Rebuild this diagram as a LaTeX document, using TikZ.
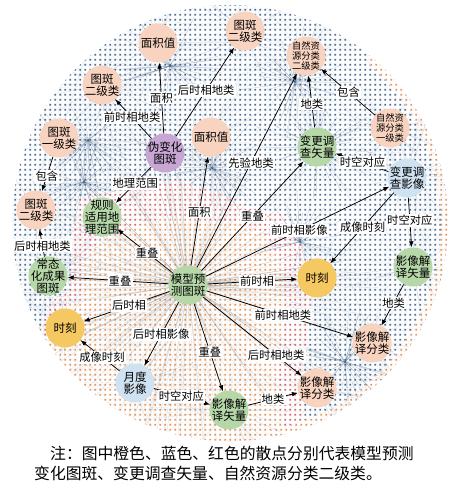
\documentclass[tikz,border=0pt]{standalone}
\usepackage{fontspec}
\setmainfont{Noto Sans CJK SC}
\usetikzlibrary{arrows.meta,patterns.meta}
\definecolor{peach}{HTML}{F8D4C0}
\definecolor{leaf}{HTML}{B6D7A8}
\definecolor{lilac}{HTML}{C7A6D3}
\definecolor{sky}{HTML}{CFE2F1}
\definecolor{amber}{HTML}{F5C862}
\definecolor{dotblue}{HTML}{4D6F96}
\definecolor{dotorange}{HTML}{E8975C}
\definecolor{dotred}{HTML}{D8646C}
\definecolor{fanblue}{HTML}{3F5F86}
\definecolor{fangray}{HTML}{7F7A76}
\pgfdeclarelayer{bg}
\pgfsetlayers{bg,main}
\tikzdeclarepattern{name=scatter, type=uncolored,
  bounding box={(0pt,0pt) and (4.8pt,4.8pt)}, tile size={(4.8pt,4.8pt)},
  code={\fill (0.3pt,0.3pt) rectangle (2.1pt,2.1pt);}}
\tikzset{
  ent/.style={circle, minimum size=39pt, inner sep=-6pt, align=center,
    font=\fontsize{11.5}{12}\selectfont},
  entsmall/.style={ent, font=\fontsize{9.3}{10.2}\selectfont},
  rel/.style={line width=0.75pt, -{Latex[length=6pt,width=4.6pt]}},
  lbl/.style={fill=white, inner sep=1.2pt, font=\fontsize{11.3}{12}\selectfont},
  fanlight/.style={draw=fanblue, opacity=0.13, line width=0.3pt},
  fandark/.style={draw=fanblue, opacity=0.35, line width=0.3pt},
  fanmodel/.style={draw=fangray, opacity=0.25, line width=0.3pt}
}
% lines from one point to its scattered points
\newcommand{\spray}[4]{\foreach \k in {1,...,#2}{\draw[#4] (#1) -- ++({360*rnd}:{#3*(0.25+0.75*rnd)});}}
\begin{document}
\begin{tikzpicture}[x=1pt,y=-1pt]
\useasboundingbox (0,0) rectangle (452,503);
\pgfmathsetseed{42}
% entities
\node[ent,fill=peach] (mjz1) at (158,43) {面积值};
\node[ent,fill=peach] (tbe1) at (245,31) {图斑\\二级类};
\node[entsmall,fill=peach] (zre) at (306,56) {自然资\\源分类\\二级类};
\node[entsmall,fill=peach] (zry) at (390,128) {自然资\\源分类\\一级类};
\node[ent,fill=peach] (tbe2) at (102,85) {图斑\\二级类};
\node[ent,fill=lilac] (wbh) at (165,153) {伪变化\\图斑};
\node[ent,fill=peach] (mjz2) at (211,137) {面积值};
\node[ent,fill=peach] (tby) at (59,138) {图斑\\一级类};
\node[ent,fill=peach] (tbe3) at (36,210) {图斑\\二级类};
\node[ent,fill=leaf] (gzfw) at (102,217) {规则\\适用地\\理范围};
\node[ent,fill=leaf] (bgsl) at (317,147) {变更调\\查矢量};
\node[ent,fill=sky] (bgyx) at (407,178) {变更调\\查影像};
\node[ent,fill=leaf] (mxyc) at (188,285) {模型预\\测图斑};
\node[ent,fill=leaf] (ctch) at (48,276) {常态\\化成果\\图斑};
\node[ent,fill=amber] (sk1) at (65,328) {时刻};
\node[ent,fill=sky] (ydyx) at (135,383) {月度\\影像};
\node[ent,fill=leaf] (yjsl1) at (229,410) {影像解\\译矢量};
\node[ent,fill=peach] (yjfl1) at (317,388) {影像解\\译分类};
\node[ent,fill=peach] (yjfl2) at (372,343) {影像解\\译分类};
\node[ent,fill=leaf] (yjsl2) at (413,267) {影像解\\译矢量};
\node[ent,fill=amber] (sk2) at (317,278) {时刻};
% hubs of the scattered points
\coordinate (hub1) at (170,66);
\coordinate (hub2) at (212,168);
\coordinate (hub3) at (88,140);
\coordinate (hub4) at (84,182);
\coordinate (hub5) at (300,242);
\coordinate (hub6) at (345,362);
\coordinate (hub7) at (295,82);
% scatter background
\begin{pgfonlayer}{bg}
\fill[white] (0,0) rectangle (452,503);
\begin{scope}
\clip (230,223) circle[radius=218];
\fill[pattern=scatter, pattern color=dotblue] (230,223) circle[radius=218];
\fill[white] (38,335) -- (52,300) -- (70,290) -- (72,245) -- (78,198) -- (130,188) -- (175,180) -- (220,193) -- (250,208) -- (282,213) -- (302,245) -- (312,290) -- (307,335) -- (302,380) -- (307,445) -- (0,470) -- (0,335) -- cycle;
\fill[pattern=scatter, pattern color=dotred] (38,335) -- (52,300) -- (70,290) -- (72,245) -- (78,198) -- (130,188) -- (175,180) -- (220,193) -- (250,208) -- (282,213) -- (302,245) -- (312,290) -- (307,335) -- (302,380) -- (307,445) -- (0,470) -- (0,335) -- cycle;
\fill[white] (42,345) -- (58,310) -- (80,300) -- (85,260) -- (100,240) -- (130,228) -- (175,215) -- (215,222) -- (245,225) -- (265,235) -- (280,260) -- (285,300) -- (280,340) -- (275,380) -- (285,445) -- (0,470) -- (0,350) -- cycle;
\fill[pattern=scatter, pattern color=dotorange] (42,345) -- (58,310) -- (80,300) -- (85,260) -- (100,240) -- (130,228) -- (175,215) -- (215,222) -- (245,225) -- (265,235) -- (280,260) -- (285,300) -- (280,340) -- (275,380) -- (285,445) -- (0,470) -- (0,350) -- cycle;
\begin{scope}
\clip (230,223) -- ++(-50:320) arc[start angle=-50, end angle=80, radius=320] -- cycle;
\fill[white, even odd rule] (230,223) circle[radius=218] (230,223) circle[radius=211];
\fill[pattern=scatter, pattern color=dotorange, even odd rule] (230,223) circle[radius=218] (230,223) circle[radius=211];
\end{scope}
\spray{mxyc.center}{260}{200}{fanmodel}
\foreach \n in {mjz1,tbe1,zre,zry,tbe2,wbh,mjz2,tby,tbe3,gzfw,bgsl,bgyx,ctch,sk1,ydyx,yjsl1,yjfl1,yjfl2,yjsl2,sk2}{
  \spray{\n.center}{60}{100}{fanlight}
}
\foreach \h in {hub1,hub2,hub3,hub4,hub5,hub6,hub7,bgsl.center}{
  \spray{\h}{40}{60}{fandark}
}
\end{scope}
\end{pgfonlayer}
% relations
\draw[rel] (wbh) -- node[lbl,pos=0.5]{面积} (mjz1);
\draw[rel] (wbh) -- node[lbl,pos=0.52]{后时相地类} (tbe1);
\draw[rel] (wbh) -- node[lbl,pos=0.54]{前时相地类} (tbe2);
\draw[rel] (tby) -- node[lbl,pos=0.56]{包含} (tbe3);
\draw[rel] (wbh) -- node[lbl,pos=0.45]{地理范围} (gzfw);
\draw[rel] (ctch) -- node[lbl,pos=0.4]{后时相地类} (tbe3);
\draw[rel] (mxyc) -- node[lbl,pos=0.46]{重叠} (gzfw);
\draw[rel] (mxyc) -- node[lbl,pos=0.48]{重叠} (ctch);
\draw[rel] (mxyc) -- node[lbl,pos=0.47]{后时相} (sk1);
\draw[rel] (mxyc) -- node[lbl,pos=0.51]{后时相影像} (ydyx);
\draw[rel] (ydyx) -- node[lbl,pos=0.45]{成像时刻} (sk1);
\draw[rel] (ydyx) -- node[lbl,pos=0.49]{时空对应} (yjsl1);
\draw[rel] (mxyc) -- node[lbl,pos=0.55]{重叠} (yjsl1);
\draw[rel] (yjsl1) -- node[lbl,pos=0.5]{地类} (yjfl1);
\draw[rel] (mxyc) -- node[lbl,pos=0.74]{后时相地类} (yjfl1);
\draw[rel] (mxyc) -- node[lbl,pos=0.52]{前时相地类} (yjfl2);
\draw[rel] (mxyc) -- node[lbl,pos=0.55]{前时相} (sk2);
\draw[rel] (mxyc) -- node[lbl,pos=0.51]{前时相影像} (bgyx);
\draw[rel] (mxyc) -- node[lbl,pos=0.5]{重叠} (bgsl);
\draw[rel] (mxyc) -- node[lbl,pos=0.49]{面积} (mjz2);
\draw[rel] (mxyc) -- node[lbl,pos=0.54]{先验地类} (zre);
\draw[rel] (bgsl) -- node[lbl,pos=0.45]{地类} (zre);
\draw[rel] (zry) -- node[lbl,pos=0.49]{包含} (zre);
\draw[rel] (bgyx) -- node[lbl,pos=0.49]{时空对应} (bgsl);
\draw[rel] (bgyx) -- node[lbl,pos=0.49]{成像时刻} (sk2);
\draw[rel] (bgyx) -- node[lbl,pos=0.45]{时空对应} (yjsl2);
\draw[rel] (yjsl2) -- node[lbl,pos=0.45]{地类} (yjfl2);
% note
\node[anchor=base west, inner sep=0pt, font=\fontsize{15.8}{18}\selectfont] (note1) at (50,459) {注：图中橙色、蓝色、红色的散点分别代表模型预测};
\node[anchor=base west, inner sep=0pt, font=\fontsize{15.8}{18}\selectfont] (note2) at (34,479) {变化图斑、变更调查矢量、自然资源分类二级类。};
\end{tikzpicture}
\end{document}
